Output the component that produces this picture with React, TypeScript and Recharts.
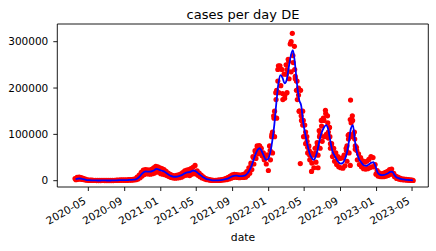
import React from 'react';
import { ComposedChart, Line, Scatter, XAxis, YAxis, ReferenceArea } from 'recharts';

// first Monday of the weekly series
const firstWeek = '2020-03-16';

// 7-day rolling mean, one value per week (2020-03-16 .. 2023-05-01)
const rollingMean = [
  // 2020
  3000, 4500, 4800, 4000, 3000, 2000, 1300,
  1000, 800, 600, 500,
  400, 400, 600, 550, 450,
  400, 450, 550, 700,
  850, 1100, 1300, 1400, 1300,
  1300, 1600, 1800, 2200,
  3000, 5500, 9500, 14500,
  18500, 20000, 19500, 19500, 20500,
  22500, 25500, 24500, 22500,
  // 2021
  21000, 19500, 16000, 13000,
  10500, 9000, 8500, 9000,
  10000, 11500, 14000, 16500, 18000,
  18500, 20500, 22000, 20500,
  17000, 13000, 9500, 6500, 4000,
  2800, 1700, 900, 650,
  650, 900, 1300, 2000,
  2700, 3800, 5500, 8000, 10000,
  11000, 11000, 10000, 10000,
  10500, 11500, 15500, 22500,
  32000, 45000, 58000, 67000, 70000,
  63000, 53000, 45000, 47000,
  // 2022
  60000, 85000, 120000, 168000, 210000,
  228000, 222000, 210000, 218000,
  245000, 270000, 282000, 252000,
  208000, 175000, 162000, 125000,
  100000, 78000, 60000, 50000, 45000,
  52000, 68000, 90000, 105000,
  115000, 120000, 112000, 88000,
  65000, 55000, 47000, 40000, 37000,
  38000, 45000, 58000, 82000,
  112000, 120000, 85000, 60000, 46000,
  40000, 34000, 32000, 33000,
  36000, 39000, 40000, 30000,
  // 2023
  17000, 13000, 12000, 12500, 14000,
  16000, 19000, 19500, 12500,
  7500, 5500, 4000, 3000,
  2500, 2000, 1500, 1200, 900,
];

// reported cases, a high weekday and a low weekend value per week
const casesHigh = [
  4500, 7000, 8000, 6500, 4800, 3200, 2000,
  1500, 1200, 900, 800,
  700, 650, 900, 800, 700,
  600, 700, 800, 1000,
  1200, 1500, 1900, 2000, 1800,
  1800, 2200, 2500, 2800,
  4000, 7500, 12000, 18000,
  23000, 24000, 23500, 23000, 24500,
  28000, 31000, 30000, 28000,
  26000, 24000, 20000, 16500,
  13500, 11500, 10500, 11500,
  12500, 14500, 17500, 21000, 23000,
  24000, 26000, 29000, 33000,
  21000, 16500, 12000, 8500, 5200,
  3600, 2300, 1200, 900,
  950, 1300, 1800, 2600,
  3500, 5000, 7000, 10000, 12500,
  13500, 13000, 12500, 12000,
  13000, 15000, 19500, 28000,
  38000, 52000, 65000, 75000, 76000,
  70000, 60000, 52000, 56000,
  75000, 95000, 140000, 190000, 240000,
  248000, 240000, 230000, 250000,
  262000, 295000, 318000, 290000,
  215000, 200000, 195000, 150000,
  120000, 95000, 75000, 60000, 55000,
  70000, 82000, 108000, 130000,
  135000, 152000, 140000, 115000,
  80000, 70000, 60000, 52000, 48000,
  49000, 55000, 70000, 98000,
  132000, 140000, 105000, 72000, 58000,
  50000, 43000, 40000, 42000,
  46000, 52000, 50000, 35000,
  22000, 17000, 15000, 16000, 18000,
  20000, 24000, 25000, 16000,
  10000, 7500, 5500, 4200,
  3500, 3000, 2200, 1800, 1400,
];

const casesLow = [
  2000, 3000, 3500, 2800, 2000, 1200, 800,
  600, 500, 400, 300,
  250, 250, 400, 350, 300,
  250, 300, 350, 450,
  550, 700, 800, 900, 800,
  800, 1000, 1200, 1500,
  2000, 3500, 6500, 10000,
  13500, 15000, 14500, 14000, 15000,
  16500, 19500, 18500, 15000,
  14000, 13000, 11000, 9000,
  7000, 6000, 5500, 6000,
  6500, 7500, 10000, 12000, 12500,
  11000, 14000, 16000, 14500,
  11500, 8500, 6000, 4000, 2500,
  1800, 1000, 500, 400,
  400, 550, 800, 1300,
  1800, 2500, 3800, 5500, 7000,
  7500, 7000, 6500, 7000,
  7000, 7500, 11000, 16000,
  24000, 36000, 48000, 58000, 62000,
  54000, 45000, 36000, 22000,
  45000, 60000, 95000, 135000, 190000,
  205000, 175000, 185000, 190000,
  220000, 235000, 255000, 220000,
  175000, 150000, 130000, 95000,
  80000, 60000, 45000, 38000, 28000,
  40000, 55000, 70000, 85000,
  95000, 100000, 92000, 70000,
  52000, 42000, 35000, 30000, 28000,
  27000, 32000, 42000, 60000,
  95000, 100000, 68000, 45000, 35000,
  30000, 26000, 25000, 26000,
  28000, 30000, 30000, 14000,
  10000, 9000, 8500, 9000, 10000,
  11500, 14000, 14500, 8500,
  5000, 3500, 2500, 1800,
  1500, 1000, 800, 600, 400,
];

// further single days, mostly on the steep flanks of the waves
const extraDates = [
  '2021-11-03', '2021-11-10', '2021-11-17', '2021-11-24', '2021-12-02', '2021-12-09', '2021-12-16',
  '2022-01-06', '2022-01-12', '2022-01-14', '2022-01-19', '2022-01-21', '2022-01-26', '2022-01-28',
  '2022-02-01', '2022-02-03', '2022-02-09', '2022-02-17', '2022-02-24', '2022-03-02', '2022-03-04',
  '2022-03-10', '2022-03-16', '2022-03-18', '2022-03-24', '2022-03-30', '2022-04-01', '2022-04-05',
  '2022-04-07', '2022-04-12', '2022-04-14', '2022-04-18', '2022-04-21', '2022-04-26', '2022-04-28',
  '2022-05-04', '2022-05-06', '2022-05-11', '2022-05-13', '2022-05-18', '2022-05-20', '2022-05-26',
  '2022-06-09', '2022-06-15', '2022-06-17', '2022-06-22', '2022-06-24', '2022-06-29', '2022-07-07',
  '2022-07-13', '2022-07-20', '2022-07-22', '2022-07-27', '2022-07-29', '2022-08-03', '2022-08-10',
  '2022-09-21', '2022-09-23', '2022-09-28', '2022-09-30', '2022-10-04', '2022-10-05', '2022-10-07',
  '2022-10-12', '2022-10-14', '2022-10-19', '2022-10-21', '2022-10-26',
];
const extraCases = [
  35000, 50000, 62000, 73000, 74000, 58000, 50000,
  65000, 100000, 105000, 135000, 150000, 175000, 195000,
  215000, 248000, 242000, 188000, 178000, 230000, 240000,
  258000, 296000, 300000, 270000, 240000, 225000, 195000,
  215000, 185000, 150000, 37000, 140000, 120000, 130000,
  95000, 105000, 85000, 72000, 65000, 55000, 20000,
  60000, 75000, 28000, 95000, 100000, 118000, 130000,
  145000, 125000, 105000, 95000, 80000, 72000, 60000,
  65000, 75000, 90000, 100000, 33000, 174000, 125000,
  130000, 100000, 90000, 75000, 65000,
];

const tickMonths = [
  '2020-05', '2020-09', '2021-01', '2021-05', '2021-09',
  '2022-01', '2022-05', '2022-09', '2023-01', '2023-05',
];
const yTicks = [0, 100000, 200000, 300000];

const DAY = 86400000;
const toMs = (s: string) => Date.parse(s + 'T00:00:00Z');
const day0 = toMs(firstWeek);

const lineData = rollingMean.map((v, i) => ({ t: day0 + (i * 7 + 3) * DAY, v }));
const dotData = [
  ...casesHigh.map((v, i) => ({ t: day0 + (i * 7 + 1) * DAY, v })),
  ...casesLow.map((v, i) => ({ t: day0 + (i * 7 + 4) * DAY, v })),
  ...extraDates.map((d, i) => ({ t: toMs(d), v: extraCases[i] })),
];

const xMin = toMs('2020-01-17');
const xMax = toMs('2023-06-25');
const yMin = -13600;
const yMax = 338200;
const xTicks = tickMonths.map((m) => toMs(m + '-01'));

const FONT = '"DejaVu Sans", sans-serif';
const W = 436;
const H = 251;
const MARGIN = { top: 24, right: 7.7, bottom: 14, left: 7.3 };

const fmtMonth = (v: number) => {
  const d = new Date(v);
  return `${d.getUTCFullYear()}-${String(d.getUTCMonth() + 1).padStart(2, '0')}`;
};

const DateTick = (props: any) => {
  const { x, y, payload } = props;
  return (
    <g transform={`translate(${x - 1.5},${y + 10})`}>
      <text x={0} y={0} textAnchor="end" transform="rotate(-30)" fontSize={10.5} fill="#000" fontFamily={FONT}>
        {fmtMonth(payload.value)}
      </text>
    </g>
  );
};

const Dot = (props: any) => <circle cx={props.cx} cy={props.cy} r={2.6} fill="#ff0000" />;

// same axes on both layers so the line chart sits exactly over the dots
const axes = (visible: boolean) => [
  <XAxis
    key="x"
    dataKey="t"
    type="number"
    domain={[xMin, xMax]}
    ticks={xTicks}
    interval={0}
    allowDataOverflow
    axisLine={false}
    tickLine={visible ? { stroke: '#000', strokeWidth: 0.9 } : false}
    tickSize={4}
    height={50}
    tick={visible ? <DateTick /> : false}
  />,
  <YAxis
    key="y"
    type="number"
    domain={[yMin, yMax]}
    ticks={yTicks}
    interval={0}
    allowDataOverflow
    axisLine={false}
    tickLine={visible ? { stroke: '#000', strokeWidth: 0.9 } : false}
    tickSize={4}
    tickMargin={5}
    width={50}
    tick={visible ? { fontSize: 10.5, fill: '#000', fontFamily: FONT } : false}
  />,
];

export default function App() {
  return (
    <div style={{ position: 'absolute', left: 0, top: 0, width: W, height: H, background: '#fff' }}>
      <div style={{ position: 'absolute', left: 0, top: 0 }}>
        <ComposedChart width={W} height={H} margin={MARGIN}>
          {axes(true)}
          <Scatter data={dotData} dataKey="v" shape={<Dot />} isAnimationActive={false} />
        </ComposedChart>
      </div>
      <div style={{ position: 'absolute', left: 0, top: 0 }}>
        <ComposedChart width={W} height={H} margin={MARGIN}>
          {axes(false)}
          <Line
            data={lineData}
            dataKey="v"
            type="monotone"
            stroke="#0000ff"
            strokeWidth={1.8}
            dot={false}
            activeDot={false}
            isAnimationActive={false}
          />
          <ReferenceArea x1={xMin} x2={xMax} y1={yMin} y2={yMax} fill="none" stroke="#000" strokeWidth={0.9} ifOverflow="visible" />
        </ComposedChart>
      </div>
      <svg width={W} height={H} style={{ position: 'absolute', left: 0, top: 0, pointerEvents: 'none' }}>
        <text x={243} y={18.5} textAnchor="middle" fontSize={13} fontFamily={FONT} fill="#000">
          cases per day DE
        </text>
        <text x={243} y={241} textAnchor="middle" fontSize={10.8} fontFamily={FONT} fill="#000">
          date
        </text>
      </svg>
    </div>
  );
}
